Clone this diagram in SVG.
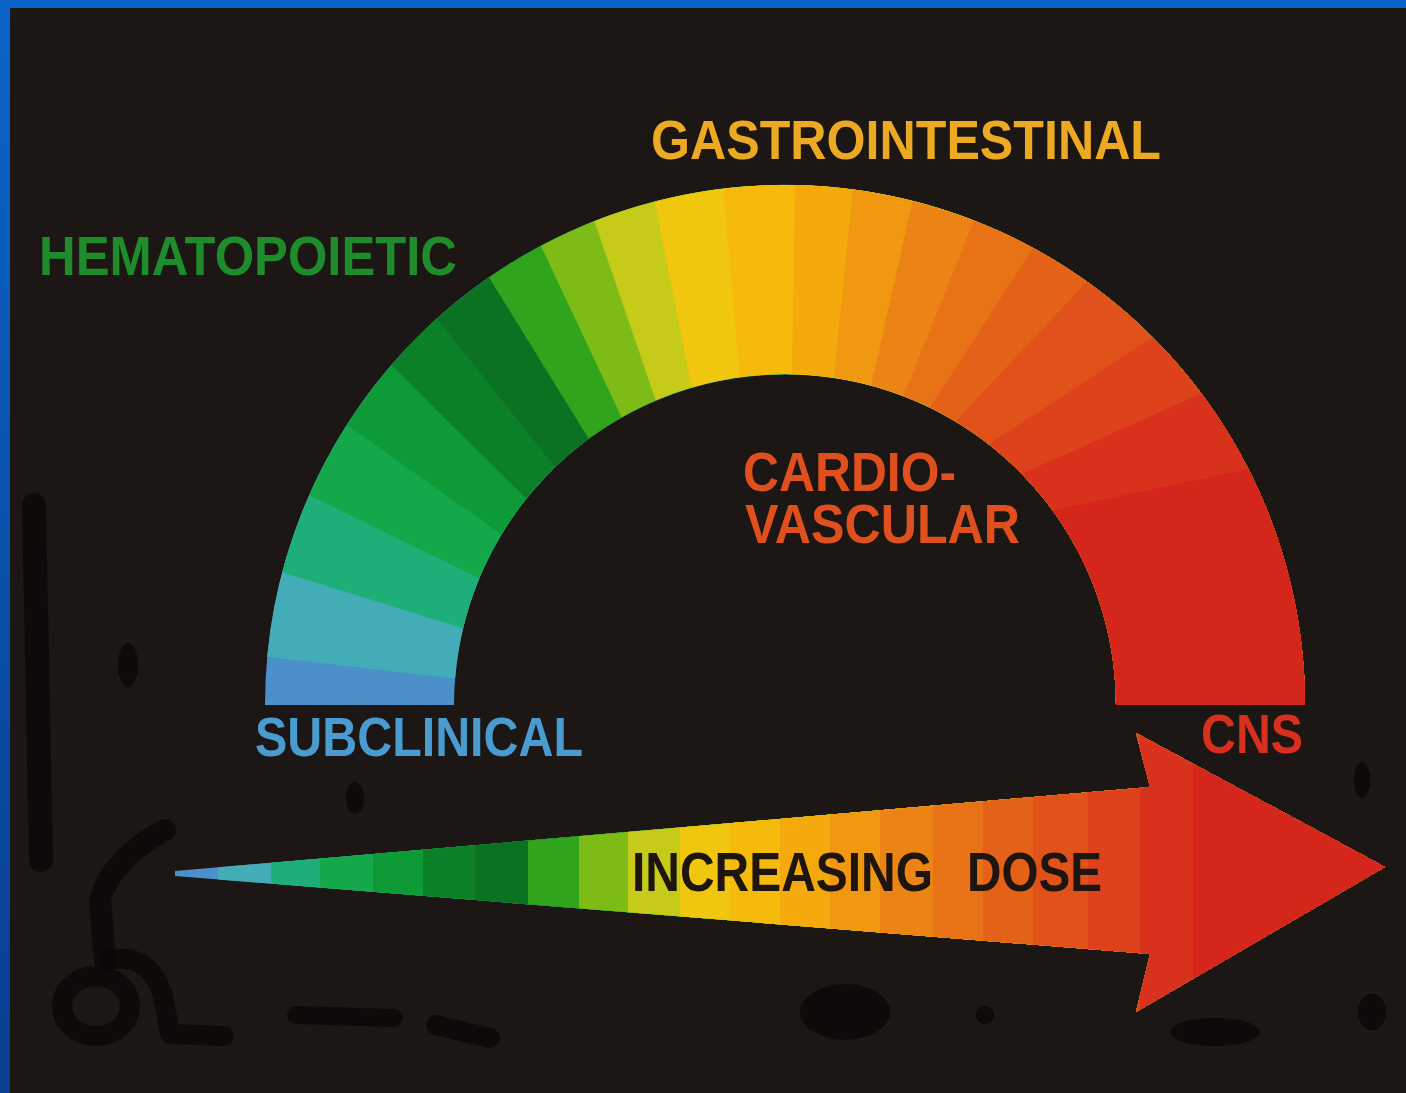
<svg xmlns="http://www.w3.org/2000/svg" width="1406" height="1093" viewBox="0 0 1406 1093">
<defs>
<linearGradient id="sideBlue" x1="0" y1="0" x2="0" y2="1">
<stop offset="0" stop-color="#0b64c8"/>
<stop offset="1" stop-color="#083e8e"/>
</linearGradient>
<clipPath id="arrowClip">
<path d="M175 871 L1150 787 L1136 733 L1385 867 L1136 1012 L1150 954 L175 876 Z"/>
</clipPath>
<style>
.lbl{font-family:"Liberation Sans",Arial,Helvetica,sans-serif;font-weight:bold}
.mark{fill:none;stroke:#0a0807;stroke-linecap:round;stroke-linejoin:round;opacity:0.85}
.blob{fill:#0a0807;opacity:0.85}
</style>
</defs>

<rect x="0" y="0" width="1406" height="1093" fill="#1c1714"/>
<rect x="0" y="0" width="1406" height="8" fill="#0b64c8"/>
<rect x="0" y="0" width="10" height="1093" fill="url(#sideBlue)"/>

<g id="marks">
<path class="mark" d="M34 505 L41 860" stroke-width="24"/>
<ellipse class="blob" cx="128" cy="665" rx="10" ry="22"/>
<ellipse class="blob" cx="355" cy="798" rx="9" ry="16"/>
<path class="mark" d="M165 830 Q112 858 100 900 L105 960" stroke-width="22"/>
<path class="mark" d="M110 960 Q152 952 164 1000 L170 1034 L224 1036" stroke-width="20"/>
<ellipse class="mark" cx="96" cy="1006" rx="34" ry="30" stroke-width="20"/>
<path class="mark" d="M296 1015 L394 1018" stroke-width="18"/>
<path class="mark" d="M436 1025 L490 1038" stroke-width="20"/>
<ellipse class="blob" cx="845" cy="1012" rx="45" ry="28"/>
<circle class="blob" cx="985" cy="1015" r="9"/>
<ellipse class="blob" cx="1215" cy="1032" rx="45" ry="14"/>
<ellipse class="blob" cx="1362" cy="780" rx="8" ry="18"/>
<ellipse class="blob" cx="1372" cy="1012" rx="14" ry="18"/>
</g>

<g id="arc">
<path fill="#4b8fcb" d="M265 705 A520 520 0 0 1 1305 705 L1116 705 A331 331 0 0 0 454 705 Z"/>
<path fill="#42adb6" d="M267.2 657.0 A520 520 0 0 1 1305 705 L1116 705 A331 331 0 0 0 455.1 678.5 Z"/>
<path fill="#1eae78" d="M282.3 572.2 A520 520 0 0 1 1305 705 L1116 705 A331 331 0 0 0 463.0 628.3 Z"/>
<path fill="#15a84a" d="M309.2 495.2 A520 520 0 0 1 1305 705 L1116 705 A331 331 0 0 0 479.2 578.3 Z"/>
<path fill="#0e9a36" d="M346.9 424.8 A520 520 0 0 1 1305 705 L1116 705 A331 331 0 0 0 501.3 534.5 Z"/>
<path fill="#0b8026" d="M391.4 365.2 A520 520 0 0 1 1305 705 L1116 705 A331 331 0 0 0 526.3 498.5 Z"/>
<path fill="#0a7220" d="M437.1 318.6 A520 520 0 0 1 1305 705 L1116 705 A331 331 0 0 0 555.1 466.9 Z"/>
<path fill="#2fa41c" d="M489.0 277.5 A520 520 0 0 1 1305 705 L1116 705 A331 331 0 0 0 588.6 438.6 Z"/>
<path fill="#7dbb16" d="M540.9 245.9 A520 520 0 0 1 1305 705 L1116 705 A331 331 0 0 0 621.5 417.2 Z"/>
<path fill="#c6cb1a" d="M594.4 221.2 A520 520 0 0 1 1305 705 L1116 705 A331 331 0 0 0 655.7 400.3 Z"/>
<path fill="#f0c60e" d="M654.8 201.6 A520 520 0 0 1 1305 705 L1116 705 A331 331 0 0 0 691.5 387.5 Z"/>
<path fill="#f6ba0a" d="M723.4 188.7 A520 520 0 0 1 1305 705 L1116 705 A331 331 0 0 0 739.5 377.1 Z"/>
<path fill="#f4aa0c" d="M795.0 185.1 A520 520 0 0 1 1305 705 L1116 705 A331 331 0 0 0 791.9 374.1 Z"/>
<path fill="#f09810" d="M852.9 189.5 A520 520 0 0 1 1305 705 L1116 705 A331 331 0 0 0 833.9 377.6 Z"/>
<path fill="#eb8414" d="M912.6 200.9 A520 520 0 0 1 1305 705 L1116 705 A331 331 0 0 0 871.2 385.4 Z"/>
<path fill="#e77316" d="M973.9 220.5 A520 520 0 0 1 1305 705 L1116 705 A331 331 0 0 0 903.6 396.0 Z"/>
<path fill="#e46218" d="M1033.1 248.0 A520 520 0 0 1 1305 705 L1116 705 A331 331 0 0 0 930.1 407.5 Z"/>
<path fill="#e0521a" d="M1087.0 281.7 A520 520 0 0 1 1305 705 L1116 705 A331 331 0 0 0 955.5 421.3 Z"/>
<path fill="#dd421c" d="M1152.7 337.3 A520 520 0 0 1 1305 705 L1116 705 A331 331 0 0 0 988.8 444.2 Z"/>
<path fill="#d8321c" d="M1201.4 393.5 A520 520 0 0 1 1305 705 L1116 705 A331 331 0 0 0 1021.9 473.8 Z"/>
<path fill="#d4261a" d="M1248.3 468.9 A520 520 0 0 1 1305 705 L1116 705 A331 331 0 0 0 1052.8 510.4 Z"/>
</g>

<g id="arrow" clip-path="url(#arrowClip)">
<rect x="170" y="720" width="1230" height="300" fill="#4b8fcb"/>
<rect x="218" y="720" width="1182" height="300" fill="#42adb6"/>
<rect x="271" y="720" width="1129" height="300" fill="#1eae78"/>
<rect x="320" y="720" width="1080" height="300" fill="#15a84a"/>
<rect x="373" y="720" width="1027" height="300" fill="#0e9a36"/>
<rect x="423" y="720" width="977" height="300" fill="#0b8026"/>
<rect x="475" y="720" width="925" height="300" fill="#0a7220"/>
<rect x="528" y="720" width="872" height="300" fill="#2fa41c"/>
<rect x="579" y="720" width="821" height="300" fill="#7dbb16"/>
<rect x="628" y="720" width="772" height="300" fill="#c6cb1a"/>
<rect x="680" y="720" width="720" height="300" fill="#f0c60e"/>
<rect x="730" y="720" width="670" height="300" fill="#f6ba0a"/>
<rect x="780" y="720" width="620" height="300" fill="#f4aa0c"/>
<rect x="830" y="720" width="570" height="300" fill="#f09810"/>
<rect x="880" y="720" width="520" height="300" fill="#eb8414"/>
<rect x="933" y="720" width="467" height="300" fill="#e77316"/>
<rect x="983" y="720" width="417" height="300" fill="#e46218"/>
<rect x="1033" y="720" width="367" height="300" fill="#e0521a"/>
<rect x="1088" y="720" width="312" height="300" fill="#dd421c"/>
<rect x="1140" y="720" width="260" height="300" fill="#d8321c"/>
<rect x="1193" y="720" width="207" height="300" fill="#d4261a"/>
</g>

<g id="label-hematopoietic"><text class="lbl" x="39" y="275" font-size="56" fill="#1e8c2a" textLength="418" lengthAdjust="spacingAndGlyphs">HEMATOPOIETIC</text></g>
<g id="label-gastrointestinal"><text class="lbl" x="651" y="159" font-size="56" fill="#eca924" textLength="510" lengthAdjust="spacingAndGlyphs">GASTROINTESTINAL</text></g>
<g id="label-cardiovascular">
<text class="lbl" x="743" y="491" font-size="55" fill="#e0501e" textLength="213" lengthAdjust="spacingAndGlyphs">CARDIO-</text>
<text class="lbl" x="745" y="543" font-size="55" fill="#e0501e" textLength="275" lengthAdjust="spacingAndGlyphs">VASCULAR</text>
</g>
<g id="label-subclinical"><text class="lbl" x="255" y="756" font-size="56" fill="#4a9bd0" textLength="328" lengthAdjust="spacingAndGlyphs">SUBCLINICAL</text></g>
<g id="label-cns"><text class="lbl" x="1201" y="753" font-size="56" fill="#d8301e" textLength="102" lengthAdjust="spacingAndGlyphs">CNS</text></g>
<g id="label-dose"><text class="lbl" y="891" font-size="55" fill="#1e1410"><tspan x="632" textLength="301" lengthAdjust="spacingAndGlyphs">INCREASING</tspan> <tspan x="967" textLength="135" lengthAdjust="spacingAndGlyphs">DOSE</tspan></text></g>
</svg>
